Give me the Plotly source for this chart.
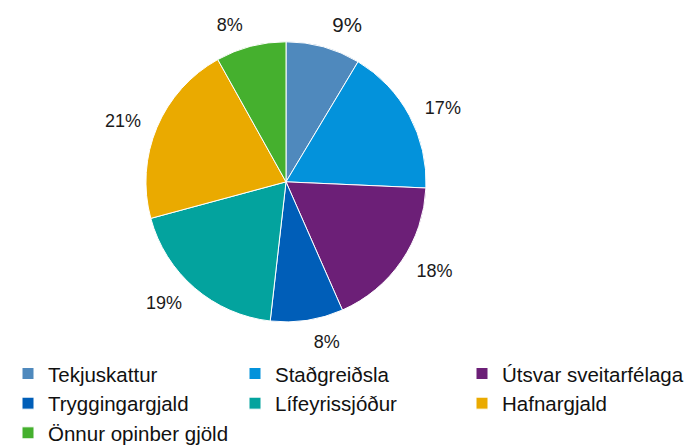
import plotly.graph_objects as go

labels = ['Tekjuskattur', 'Staðgreiðsla', 'Útsvar sveitarfélaga', 'Tryggingargjald',
          'Lífeyrissjóður', 'Hafnargjald', 'Önnur opinber gjöld']
values = [8.6, 17.1, 17.7, 8.4, 19.0, 21.1, 8.1]
colors = ['#4F89BD', '#0392DB', '#6C1F77', '#005EB8', '#03A39E', '#EAAA00', '#45B02E']
label_sizes = [20.5, 18, 18, 18, 18, 18, 18]

W, H = 692, 448
cx, cy, r = 278, 172, 141   # pie centre and radius in px
r_lab = 153                 # slightly larger ring that only carries the % labels


def dom(rad):
    return dict(x=[(cx - rad) / W, (cx + rad) / W], y=[1 - (cy + rad) / H, 1 - (cy - rad) / H])


fig = go.Figure()
# invisible pie, only used to set the percent labels a bit further out
fig.add_trace(go.Pie(labels=labels, values=values, sort=False, direction='clockwise',
                     marker=dict(colors=['rgba(0,0,0,0)'] * len(labels), line=dict(width=0)),
                     texttemplate='%{percent:.0%}', textposition='outside',
                     textfont=dict(size=label_sizes, color='#1a1a1a'),
                     showlegend=False, hoverinfo='skip', domain=dom(r_lab)))
fig.add_trace(go.Pie(labels=labels, values=values, sort=False, direction='clockwise',
                     marker=dict(colors=colors, line=dict(color='white', width=1)),
                     textinfo='none', domain=dom(r)))

fig.update_layout(width=W, height=H, margin=dict(l=0, r=0, t=0, b=0),
                  paper_bgcolor='white', font=dict(family='Liberation Sans, Arial'),
                  legend=dict(orientation='h', x=0, xanchor='left', y=1-345/H, yanchor='top',
                              entrywidth=182, entrywidthmode='pixels',
                              font=dict(size=20.5, color='#111111'), itemwidth=30))

fig.write_html("out.html")
